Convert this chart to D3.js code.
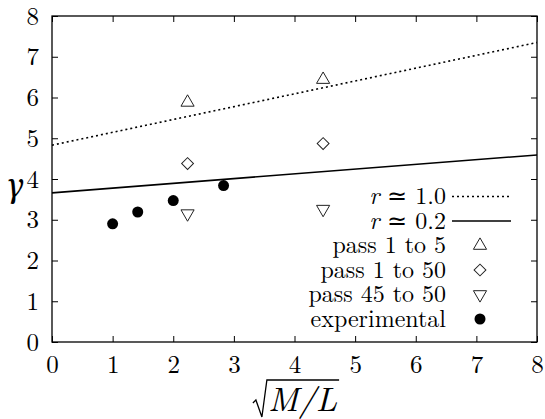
<!DOCTYPE html>
<meta charset="utf-8">
<style>
body { margin: 0; background: #fff; }
.axis line { stroke: #000; stroke-width: 1px; }
.axis path { display: none; }
.frame { fill: none; stroke: #000; stroke-width: 1.3px; }
.fit1 { fill: none; stroke: #000; stroke-width: 1.6px; stroke-dasharray: 2,3; }
.fit2 { fill: none; stroke: #000; stroke-width: 1.6px; }
.sym { fill: #fff; stroke: #222; stroke-width: 1px; }
.exp { fill: #000; }
</style>
<body>
<svg width="545" height="419"></svg>
<script src="https://d3js.org/d3.v7.min.js"></script>
<script>
// values
var ticks = [0, 1, 2, 3, 4, 5, 6, 7, 8];

var passX = [2.236, 4.472];          // sqrt(M/L) for the simulated points
var pass1to5 = [5.88, 6.44];
var pass1to50 = [4.38, 4.87];
var pass45to50 = [3.15, 3.26];

var expX = [1.0, 1.414, 2.0, 2.83];
var expY = [2.90, 3.19, 3.47, 3.84];

var fitX = [0, 8];
var fitR10 = [4.83, 7.35];
var fitR02 = [3.66, 4.59];

var fitLabels = ["1.0", "0.2"];
var legendLabels = ["pass 1 to 5", "pass 1 to 50", "pass 45 to 50", "experimental"];

var lm = "'Latin Modern Roman'";

var svg = d3.select("svg"),
    margin = {top: 16, right: 8, bottom: 77, left: 52},
    width = +svg.attr("width") - margin.left - margin.right,
    height = +svg.attr("height") - margin.top - margin.bottom;

var x = d3.scaleLinear().domain([0, 8]).range([0, width]);
var y = d3.scaleLinear().domain([0, 8]).range([height, 0]);

var g = svg.append("g")
    .attr("transform", "translate(" + margin.left + "," + margin.top + ")");

// inward ticks on all four sides, labels only bottom and left
g.append("g")
    .attr("class", "axis")
    .attr("transform", "translate(0," + height + ")")
    .call(d3.axisBottom(x).tickValues(ticks).tickSizeInner(-6).tickSizeOuter(0).tickPadding(13));
g.append("g")
    .attr("class", "axis")
    .call(d3.axisTop(x).tickValues(ticks).tickSizeInner(-6).tickSizeOuter(0).tickFormat(""));
g.append("g")
    .attr("class", "axis")
    .call(d3.axisLeft(y).tickValues(ticks).tickSizeInner(-6).tickSizeOuter(0).tickPadding(13));
g.append("g")
    .attr("class", "axis")
    .attr("transform", "translate(" + width + ",0)")
    .call(d3.axisRight(y).tickValues(ticks).tickSizeInner(-6).tickSizeOuter(0).tickFormat(""));

g.selectAll(".axis text")
    .style("font-family", lm)
    .style("font-size", "25px")
    .attr("fill", "#000");

g.append("rect")
    .attr("class", "frame")
    .attr("width", width)
    .attr("height", height);

// fit lines
var line = d3.line()
    .x(function(d) { return x(d[0]); })
    .y(function(d) { return y(d[1]); });

g.append("path")
    .datum(d3.zip(fitX, fitR10))
    .attr("class", "fit1")
    .attr("d", line);
g.append("path")
    .datum(d3.zip(fitX, fitR02))
    .attr("class", "fit2")
    .attr("d", line);

// symbols
var triUp = d3.symbol().type(d3.symbolTriangle).size(75);
var diamond = d3.symbol().type(d3.symbolSquare).size(70);
var triDown = d3.symbol().type(d3.symbolTriangle).size(75);

function drawPoints(xs, ys, sym, rot, cls) {
  g.selectAll(null)
    .data(d3.zip(xs, ys))
    .enter().append("path")
      .attr("class", cls)
      .attr("d", sym)
      .attr("transform", function(d) {
        return "translate(" + x(d[0]) + "," + y(d[1]) + ") rotate(" + rot + ")";
      });
}

drawPoints(passX, pass1to5, triUp, 0, "sym");
drawPoints(passX, pass1to50, diamond, 45, "sym");
drawPoints(passX, pass45to50, triDown, 180, "sym");

g.selectAll(null)
    .data(d3.zip(expX, expY))
    .enter().append("circle")
      .attr("class", "exp")
      .attr("cx", function(d) { return x(d[0]); })
      .attr("cy", function(d) { return y(d[1]); })
      .attr("r", 5.5);

// legend
var leg = g.append("g"),
    rowH = 24.5,
    legTop = 180.5,
    textX = 394,
    sampleX0 = 400,
    sampleX1 = 459,
    symX = 428;

function legText(i) {
  return leg.append("text")
      .attr("x", textX)
      .attr("y", legTop + i * rowH)
      .attr("dy", "0.33em")
      .attr("text-anchor", "end")
      .style("font-family", lm)
      .style("font-size", "24px");
}

fitLabels.forEach(function(v, i) {
  var t = legText(i);
  t.append("tspan").style("font-style", "italic").text("r");
  t.append("tspan").text(" \u2243 " + v);
  leg.append("line")
      .attr("class", i === 0 ? "fit1" : "fit2")
      .attr("x1", sampleX0).attr("x2", sampleX1)
      .attr("y1", legTop + i * rowH).attr("y2", legTop + i * rowH);
});

var legSyms = [[triUp, 0], [diamond, 45], [triDown, 180]];
legendLabels.forEach(function(lab, i) {
  var row = i + 2;
  legText(row).text(lab);
  var cy = legTop + row * rowH;
  if (i < 3) {
    leg.append("path")
        .attr("class", "sym")
        .attr("d", legSyms[i][0])
        .attr("transform", "translate(" + symX + "," + cy + ") rotate(" + legSyms[i][1] + ")");
  } else {
    leg.append("circle").attr("class", "exp").attr("cx", symX).attr("cy", cy).attr("r", 5.5);
  }
});

// y label
svg.append("text")
    .attr("x", 15)
    .attr("y", 197)
    .attr("text-anchor", "middle")
    .style("font-family", "'Noto Serif'")
    .style("font-size", "32px")
    .style("font-style", "italic")
    .text("\u03b3");

// x label: sqrt(M/L)
var cx = margin.left + width / 2 + 8,
    base = 411;
var ml = svg.append("text")
    .attr("x", cx)
    .attr("y", base)
    .attr("text-anchor", "middle")
    .style("font-family", lm)
    .style("font-size", "34px")
    .style("font-style", "italic")
    .text("M/L");
var w = ml.node().getComputedTextLength();
var x0 = cx - w / 2, barY = base - 31;
svg.append("path")
    .attr("fill", "none")
    .attr("stroke", "#000")
    .attr("stroke-width", 1.3)
    .attr("d", "M" + (x0 - 15) + "," + (base - 8) +
               "L" + (x0 - 12) + "," + (base - 11) +
               "L" + (x0 - 6) + "," + (base + 6) +
               "L" + (x0 - 1) + "," + barY +
               "L" + (x0 + w + 2) + "," + barY);
</script>
</body>
